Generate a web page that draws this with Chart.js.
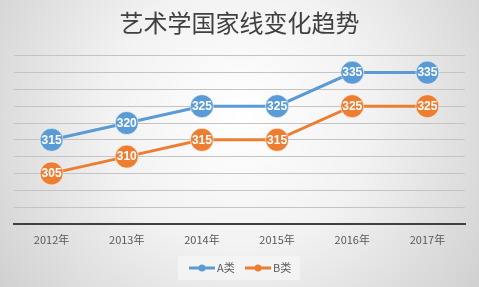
<!DOCTYPE html>
<html><head><meta charset="utf-8">
<script src="https://cdn.jsdelivr.net/npm/chart.js@4/dist/chart.umd.min.js"></script>
<style>html,body{margin:0;padding:0;background:#fff;}#wrap{width:479px;height:287px;}</style>
</head><body><div id="wrap"><canvas id="c" width="479" height="287"></canvas></div>
<script>
const categories = ['2012年','2013年','2014年','2015年','2016年','2017年'];
const seriesA = [315,320,325,325,335,335];
const seriesB = [305,310,315,315,325,325];
const seriesNames = ['A类','B类'];
const titleText = '艺术学国家线变化趋势';
const colors = ['#5b9bd5','#ed7d31'];

const bgPlugin = {
  id:'bg',
  beforeDraw(chart){
    const ctx = chart.ctx, w = chart.width, h = chart.height;
    ctx.save();
    const g = ctx.createRadialGradient(w/2, h*0.4, 0, w/2, h*0.4, w*0.62);
    g.addColorStop(0,'#ffffff');
    g.addColorStop(0.45,'#f2f2f2');
    g.addColorStop(1,'#d0d0d0');
    ctx.fillStyle = g;
    ctx.fillRect(0,0,w,h);
    ctx.restore();
  }
};
const labelPlugin = {
  id:'lbl',
  afterDatasetsDraw(chart){
    const ctx = chart.ctx;
    ctx.save();
    ctx.font = 'bold 12px "Liberation Sans", Arial, sans-serif';
    ctx.fillStyle = '#ffffff';
    ctx.textAlign = 'center';
    ctx.textBaseline = 'middle';
    chart.data.datasets.forEach((ds,i)=>{
      chart.getDatasetMeta(i).data.forEach((pt,j)=>{
        ctx.fillText(String(ds.data[j]), pt.x, pt.y+0.5);
      });
    });
    ctx.restore();
  }
};
const legendPlugin = {
  id:'lg',
  afterDraw(chart){
    const ctx = chart.ctx;
    ctx.save();
    ctx.fillStyle = 'rgba(245,245,245,0.85)';
    ctx.fillRect(178,256,122,24);
    const y = 268;
    const items = [{x:189},{x:245}];
    ctx.font = '11px "Noto Sans CJK SC", sans-serif';
    ctx.textBaseline = 'middle';
    chart.data.datasets.forEach((ds,i)=>{
      const x = items[i].x;
      ctx.strokeStyle = ds.borderColor; ctx.lineWidth = 3;
      ctx.beginPath(); ctx.moveTo(x,y); ctx.lineTo(x+26,y); ctx.stroke();
      ctx.fillStyle = ds.borderColor;
      ctx.beginPath(); ctx.arc(x+13,y,3.5,0,Math.PI*2); ctx.fill();
      ctx.fillStyle = '#595959';
      ctx.fillText(ds.label, x+28, y);
    });
    ctx.restore();
  }
};

new Chart(document.getElementById('c'), {
  type:'line',
  data:{
    labels: categories,
    datasets:[
      {label:seriesNames[0], data:seriesA, borderColor:colors[0], backgroundColor:colors[0], borderWidth:3,
       pointRadius:11.5, pointHoverRadius:11.5, pointBackgroundColor:colors[0], pointBorderColor:'rgba(255,255,255,0.55)', pointBorderWidth:1},
      {label:seriesNames[1], data:seriesB, borderColor:colors[1], backgroundColor:colors[1], borderWidth:3,
       pointRadius:11.5, pointHoverRadius:11.5, pointBackgroundColor:colors[1], pointBorderColor:'rgba(255,255,255,0.55)', pointBorderWidth:1}
    ]
  },
  options:{
    responsive:false, animation:false, devicePixelRatio:1,
    layout:{padding:{left:14,right:14,top:0,bottom:40}},
    plugins:{
      legend:{display:false},
      tooltip:{enabled:false},
      title:{display:true, text:titleText, color:'#404040',
        font:{family:'"Noto Sans CJK SC", sans-serif', size:24, weight:'normal'},
        padding:{top:8,bottom:19}}
    },
    scales:{
      x:{offset:true,
        grid:{display:false},
        border:{display:true, color:'#404040', width:2},
        ticks:{color:'#595959', padding:1, font:{family:'"Noto Sans CJK SC", sans-serif', size:11}}},
      y:{min:290, max:340,
        ticks:{display:false, stepSize:5},
        border:{display:false},
        grid:{color:'#c4c4c4', lineWidth:1, drawTicks:false}}
    }
  },
  plugins:[bgPlugin, labelPlugin, legendPlugin]
});
</script>
</body></html>
